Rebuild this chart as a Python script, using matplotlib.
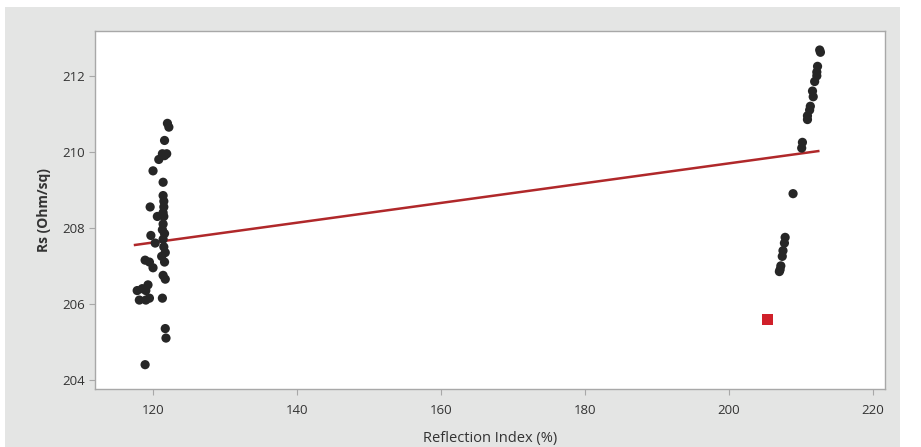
import matplotlib
matplotlib.use("Agg")
import matplotlib.pyplot as plt
from matplotlib.patches import Rectangle

# Data
left_x = [122.0, 122.2, 121.6, 121.3, 121.6, 121.9, 120.8, 120.0, 121.4, 121.4,
          121.5, 121.5, 121.4, 119.6, 120.6, 121.5, 121.4, 121.3, 121.6, 119.7,
          120.3, 121.4, 121.5, 121.7, 121.2, 121.6, 118.9, 119.5, 120.0, 121.4,
          121.7, 117.8, 118.5, 119.3, 119.0, 118.1, 119.0, 119.5, 121.3, 121.7,
          121.8, 118.9]
left_y = [210.75, 210.65, 210.3, 209.95, 209.9, 209.95, 209.8, 209.5, 209.2, 208.85,
          208.7, 208.55, 208.4, 208.55, 208.3, 208.3, 208.1, 207.95, 207.85, 207.8,
          207.6, 207.7, 207.5, 207.35, 207.25, 207.1, 207.15, 207.1, 206.95, 206.75,
          206.65, 206.35, 206.4, 206.5, 206.35, 206.1, 206.1, 206.15, 206.15, 205.35,
          205.1, 204.4]

right_x = [212.6, 212.7, 212.3, 212.2, 212.2, 211.9, 211.6, 211.7, 211.3, 211.2,
           210.9, 210.9, 210.2, 210.1, 208.9, 207.8, 207.7, 207.5, 207.4, 207.2,
           207.1, 207.0]
right_y = [212.68, 212.62, 212.25, 212.1, 212.0, 211.85, 211.6, 211.45, 211.2, 211.1,
           210.95, 210.85, 210.25, 210.1, 208.9, 207.75, 207.6, 207.4, 207.25, 207.0,
           206.9, 206.85]

outlier_x = [205.4]
outlier_y = [205.6]

# Fitted line end points
fit_x = [117.5, 212.4]
fit_y = [207.55, 210.02]

plt.rcParams["font.family"] = ["Open Sans", "DejaVu Sans"]

fig = plt.figure(figsize=(9.21, 4.47), dpi=100)
fig.patch.set_facecolor("white")

# Grey panel behind the plot
panel = Rectangle((5 / 921, 0), 895 / 921, 440 / 447, transform=fig.transFigure,
                  facecolor="#e4e5e4", edgecolor="none", zorder=-10)
fig.add_artist(panel)

ax = fig.add_axes([95 / 921, 58 / 447, 790 / 921, 358 / 447])
ax.set_facecolor("white")

ax.scatter(left_x + right_x, left_y + right_y, s=44, color="#262626",
           edgecolors="none", zorder=3)
ax.scatter(outlier_x, outlier_y, s=64, marker="s", color="#d0202a",
           edgecolors="none", zorder=3)
ax.plot(fit_x, fit_y, color="#b0282a", lw=1.8, zorder=2)

ax.set_xlim(111.94, 221.67)
ax.set_ylim(203.76, 213.18)
ax.set_xticks([120, 140, 160, 180, 200, 220])
ax.set_yticks([204, 206, 208, 210, 212])

for s in ax.spines.values():
    s.set_color("#a8a8a8")
    s.set_linewidth(1.0)
ax.tick_params(colors="#a8a8a8", labelcolor="#333333", labelsize=9.5, length=4)
ax.tick_params(axis="x", pad=7)

ax.set_xlabel("Reflection Index (%)", fontsize=10.5, color="#333333", labelpad=10)
ax.set_ylabel("Rs (Ohm/sq)", fontsize=10, color="#333333", fontweight="bold",
              labelpad=8)

plt.savefig("out.png", dpi=100)
